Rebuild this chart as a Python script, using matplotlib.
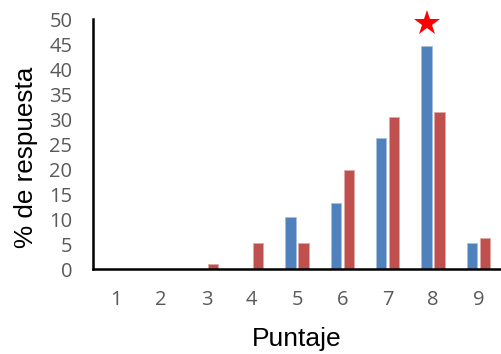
import matplotlib
matplotlib.use("Agg")
import matplotlib.pyplot as plt
import numpy as np

# Score categories and the share of answers (%) for the two groups
puntajes = ["1", "2", "3", "4", "5", "6", "7", "8", "9"]
grupo_a = [0, 0, 0, 0, 10.5, 13.2, 26.3, 44.7, 5.3]
grupo_b = [0, 0, 1.0, 5.2, 5.2, 19.9, 30.5, 31.5, 6.2]
yticks = [0, 5, 10, 15, 20, 25, 30, 35, 40, 45, 50]
star_cat = 8
star_value = 49.2

azul = "#4f81bd"
rojo = "#c0504d"
gris = "#595959"

fig = plt.figure(figsize=(5.01, 3.54), dpi=100)
ax = fig.add_axes([0.186, 0.239, 0.814, 0.707])

x = np.arange(1, len(puntajes) + 1)
w = 0.227
off = 0.143
ax.bar(x - off, grupo_a, width=w, color=azul, edgecolor="#a8c0df", linewidth=0.6)
ax.bar(x + off, grupo_b, width=w, color=rojo, edgecolor="#e0a8a6", linewidth=0.6)

# Star marking the most frequent score
ax.plot(star_cat - off, star_value, marker="*", color="red", markersize=19,
        markeredgewidth=0, clip_on=False)

ax.set_xlim(0.5, 9.5)
ax.set_ylim(0, 50)
ax.set_xticks(x)
ax.set_xticklabels(puntajes)
ax.set_yticks(yticks)

for s in ["top", "right"]:
    ax.spines[s].set_visible(False)
for s in ["left", "bottom"]:
    ax.spines[s].set_linewidth(1.8)
    ax.spines[s].set_color("black")

ax.tick_params(axis="both", length=0, labelsize=14.5, labelcolor=gris)
ax.tick_params(axis="y", pad=15)
ax.tick_params(axis="x", pad=15)
for lab in ax.get_xticklabels() + ax.get_yticklabels():
    lab.set_family("Open Sans")

ax.set_xlabel("Puntaje", fontsize=19, family="Liberation Sans")
ax.set_ylabel("% de respuesta", fontsize=18.8, family="Liberation Sans")
ax.xaxis.set_label_coords(0.5, -0.232)
ax.yaxis.set_label_coords(-0.135, 0.446)

fig.savefig("out.png", dpi=100)
